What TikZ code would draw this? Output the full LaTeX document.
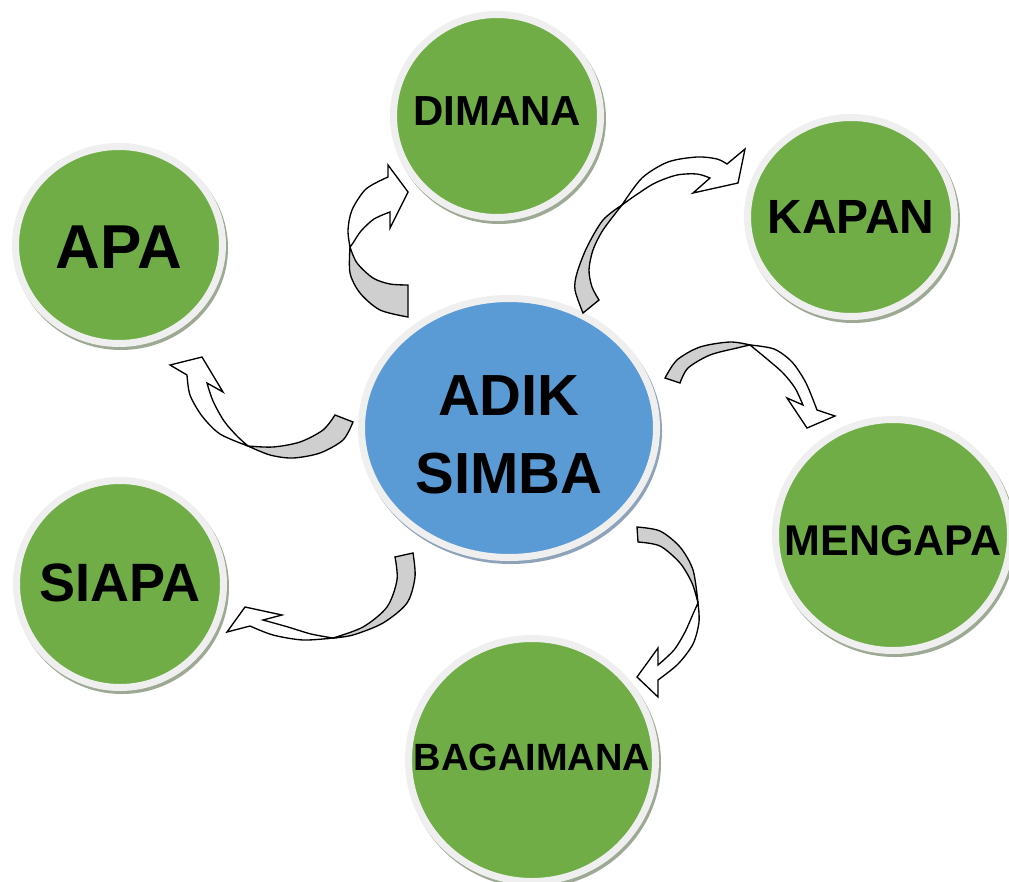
\documentclass[tikz,border=0pt]{standalone}
\usepackage{fontspec}
\setmainfont{Liberation Sans}
\usetikzlibrary{shapes.geometric,shadows}
\definecolor{ballgreen}{HTML}{70AD47}
\definecolor{ballblue}{HTML}{5B9BD5}
\definecolor{ringgray}{HTML}{EFEFEF}
\definecolor{shadegreen}{HTML}{9DA994}
\definecolor{shadeblue}{HTML}{8EA3BA}
\definecolor{tailgray}{HTML}{CFCFCF}
\newcommand\balltext[2]{\raisebox{#1}[0pt][0pt]{\makebox[0pt]{#2}}}
\begin{document}
\begin{tikzpicture}[x=0.75pt,y=-0.75pt,
  ball/.style={ellipse, draw=ringgray, line width=5.25pt, inner sep=0pt, outer sep=0pt},
  greenball/.style={ball, fill=ballgreen, general shadow={draw=shadegreen, fill=shadegreen, line width=5.25pt, shadow xshift=1.5pt, shadow yshift=-2.25pt}},
  blueball/.style={ball, fill=ballblue, general shadow={draw=shadeblue, fill=shadeblue, line width=5.25pt, shadow xshift=1.5pt, shadow yshift=-2.25pt}},
  textsize/.style={font=\bfseries\fontsize{#1}{#1}\selectfont},
  arrowpart/.style={draw=black, line width=1pt, line join=miter},
  headpart/.style={arrowpart, fill=white},
  tailpart/.style={arrowpart, fill=tailgray}
]
\useasboundingbox (0,0) rectangle (1009,881);
\fill[white] (0,0) rectangle (1009,881);

% circles
\node[greenball, minimum width=155.25pt, minimum height=147.75pt, textsize=46.5pt] (apa) at (119,245) {\balltext{-17.75pt}{APA}};
\node[greenball, minimum width=155.25pt, minimum height=152.25pt, textsize=31.5pt] (dimana) at (497,116) {\balltext{-6.75pt}{DIMANA}};
\node[greenball, minimum width=155.25pt, minimum height=149.25pt, textsize=36pt] (kapan) at (851,217) {\balltext{-12pt}{KAPAN}};
\node[greenball, minimum width=176.25pt, minimum height=173.25pt, textsize=32.25pt] (mengapa) at (893,535) {\balltext{-15pt}{MENGAPA}};
\node[greenball, minimum width=185.25pt, minimum height=182.25pt, textsize=28.5pt] (bagaimana) at (532,760) {\balltext{-7.5pt}{BAGAIMANA}};
\node[greenball, minimum width=155.25pt, minimum height=155.25pt, textsize=40.5pt] (siapa) at (120,584) {\balltext{-13pt}{SIAPA}};
\node[blueball, minimum width=221.25pt, minimum height=194.25pt, textsize=43.5pt] (adik) at (509,428) {\balltext{9.75pt}{ADIK}\balltext{-48.75pt}{SIMBA}};

% arrow to DIMANA
\draw[tailpart] plot[smooth] coordinates {(350,247) (357,263) (373,278) (390,284) (408,285)} -- (408,317) -- plot[smooth] coordinates {(408,317) (380,310) (360,293) (350,273) (350,247)} -- cycle;
\draw[headpart] plot[smooth] coordinates {(350,247) (348,230) (352,210) (366,189) (388,177)} -- (388,165) -- (408,192) -- (390,228) -- plot[smooth] coordinates {(390,212) (374,219) (361,231) (353,243) (350,247)} -- cycle;

% arrow to KAPAN
\draw[tailpart] plot[smooth] coordinates {(622,205) (603,220) (587,247) (577,273) (575,290) (583,313)} -- (599,300) -- plot[smooth] coordinates {(599,300) (592,287) (589,270) (593,250) (603,230) (622,205)} -- cycle;
\draw[headpart] plot[smooth] coordinates {(622,205) (642,178) (668,162) (697,157) (717,159) (727,164)} -- (745,149) -- (738,183) -- (693,193) -- plot[smooth] coordinates {(710,178) (697,174) (677,175) (655,183) (636,195) (622,205)} -- cycle;

% arrow to MENGAPA
\draw[tailpart] plot[smooth] coordinates {(750,345) (730,342) (700,347) (677,360) (665,378)} -- (680,383) -- plot[smooth] coordinates {(680,383) (688,368) (710,355) (737,348) (750,345)} -- cycle;
\draw[headpart] plot[smooth] coordinates {(750,345) (774,349) (792,362) (806,383) (817,410)} -- (835,416) -- (807,428) -- (787,398) -- plot[smooth] coordinates {(803,405) (795,388) (783,373) (767,359) (750,345)} -- cycle;

% arrow to APA
\draw[tailpart] plot[smooth] coordinates {(248,446) (273,447) (300,442) (323,430) (335,415)} -- (353,422) -- plot[smooth] coordinates {(353,422) (343,440) (320,453) (293,458) (270,455) (248,446)} -- cycle;
\draw[headpart] plot[smooth] coordinates {(248,446) (220,434) (202,416) (190,395) (187,375)} -- (170,365) -- (202,357) -- (223,392) -- plot[smooth] coordinates {(207,383) (213,401) (224,421) (237,436) (248,446)} -- cycle;

% arrow to SIAPA
\draw[tailpart] plot[smooth] coordinates {(333,638) (363,627) (387,607) (397,580) (395,557)} -- (413,553) -- plot[smooth] coordinates {(413,553) (415,577) (407,603) (383,623) (353,635) (333,638)} -- cycle;
\draw[headpart] plot[smooth] coordinates {(333,638) (303,640) (273,635) (250,626)} -- (227,632) -- (245,607) -- (282,615) -- plot[smooth] coordinates {(263,620) (288,627) (311,634) (333,638)} -- cycle;

% arrow to BAGAIMANA
\draw[tailpart] plot[smooth] coordinates {(698,603) (693,570) (680,547) (660,531) (637,527)} -- (638,542) -- plot[smooth] coordinates {(638,542) (660,546) (680,563) (692,583) (698,603)} -- cycle;
\draw[headpart] plot[smooth] coordinates {(698,603) (699,622) (693,644) (678,664) (658,680)} -- (658,697) -- (637,677) -- (658,648) -- plot[smooth] coordinates {(658,665) (674,650) (685,632) (693,614) (698,603)} -- cycle;
\end{tikzpicture}
\end{document}
